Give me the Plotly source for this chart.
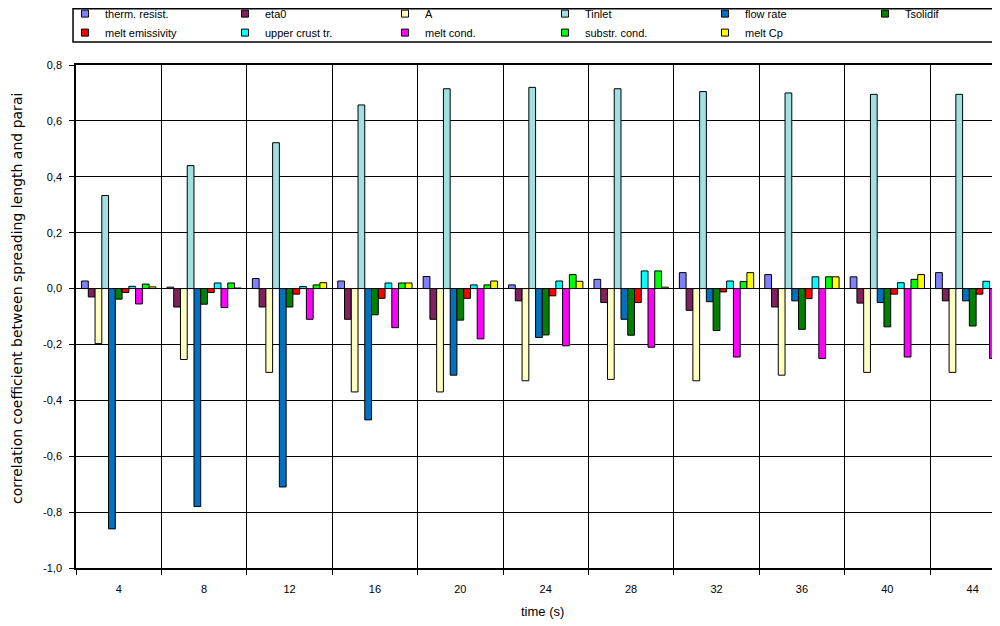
import plotly.graph_objects as go

times = ["4", "8", "12", "16", "20", "24", "28", "32", "36", "40", "44"]

therm_resist = [0.027, 0.005, 0.036, 0.027, 0.043, 0.013, 0.033, 0.057, 0.050, 0.042, 0.057]
eta0 = [-0.030, -0.066, -0.066, -0.110, -0.110, -0.044, -0.050, -0.078, -0.066, -0.052, -0.044]
a_param = [-0.197, -0.254, -0.300, -0.370, -0.370, -0.330, -0.325, -0.330, -0.310, -0.300, -0.300]
t_inlet = [0.333, 0.440, 0.522, 0.657, 0.715, 0.720, 0.715, 0.705, 0.700, 0.695, 0.695]
flow_rate = [-0.860, -0.780, -0.710, -0.470, -0.310, -0.175, -0.110, -0.047, -0.044, -0.050, -0.044]
t_solidif = [-0.038, -0.056, -0.066, -0.094, -0.113, -0.166, -0.167, -0.150, -0.146, -0.137, -0.134]
melt_emissivity = [-0.014, -0.014, -0.020, -0.035, -0.035, -0.026, -0.050, -0.012, -0.036, -0.020, -0.020]
upper_crust = [0.008, 0.020, 0.007, 0.020, 0.013, 0.027, 0.063, 0.027, 0.042, 0.021, 0.026]
melt_cond = [-0.055, -0.068, -0.110, -0.140, -0.180, -0.205, -0.210, -0.245, -0.250, -0.245, -0.250]
substr_cond = [0.016, 0.020, 0.013, 0.020, 0.013, 0.050, 0.063, 0.025, 0.042, 0.033, 0.026]
melt_cp = [0.006, 0.002, 0.021, 0.020, 0.027, 0.026, 0.005, 0.057, 0.042, 0.050, 0.040]

series_names = ["therm. resist.", "eta0", "A", "Tinlet", "flow rate", "Tsolidif",
                "melt emissivity", "upper crust tr.", "melt cond.", "substr. cond.", "melt Cp"]
series_values = [therm_resist, eta0, a_param, t_inlet, flow_rate, t_solidif,
                 melt_emissivity, upper_crust, melt_cond, substr_cond, melt_cp]
series_colors = ["#8080FF", "#80205F", "#FFFFC0", "#A0E0E0", "#0070C0", "#008000",
                 "#FF0000", "#00FFFF", "#FF00FF", "#00FF00", "#FFFF00"]

y_ticks = [-1.0, -0.8, -0.6, -0.4, -0.2, 0.0, 0.2, 0.4, 0.6, 0.8]
y_ticktext = [("%.1f" % v).replace(".", ",") for v in y_ticks]

FONT = "Liberation Sans"

fig = go.Figure()
for name, vals, col in zip(series_names, series_values, series_colors):
    fig.add_trace(go.Bar(
        x=times, y=vals, name=name, showlegend=False,
        marker=dict(color=col, line=dict(color="black", width=1)),
    ))
# legend entries with small square swatches
for name, col in zip(series_names, series_colors):
    fig.add_trace(go.Scatter(
        x=[None], y=[None], mode="markers", name=name,
        marker=dict(symbol="square", size=7, color=col, line=dict(color="black", width=1)),
    ))

fig.update_layout(
    width=1000, height=626,
    margin=dict(l=68, r=0, t=57, b=66, autoexpand=False),
    paper_bgcolor="white", plot_bgcolor="white",
    barmode="group", bargap=0.13, bargroupgap=0,
    font=dict(family=FONT, size=11, color="black"),
    legend=dict(
        orientation="h", x=-0.0118, xanchor="left", y=1.131, yanchor="top",
        entrywidth=115, entrywidthmode="pixels",
        bgcolor="rgba(0,0,0,0)", borderwidth=0,
        font=dict(family=FONT, size=11, color="black"),
        traceorder="normal",
    ),
    shapes=[dict(type="rect", xref="paper", yref="paper",
                 x0=-0.0032, x1=1.03, y0=1.0457, y1=1.1118,
                 line=dict(color="black", width=1.5), fillcolor="rgba(0,0,0,0)")],
    annotations=[
        dict(text="correlation coefficient between spreading length and parai",
             xref="paper", yref="paper", x=-0.0633, y=0.5348, textangle=-90,
             showarrow=False, xanchor="center", yanchor="middle",
             font=dict(family="DejaVu Sans", size=14, color="black")),
        dict(text="time (s)", xref="paper", yref="paper", x=0.5005, y=-0.0855,
             showarrow=False, xanchor="center", yanchor="middle",
             font=dict(family=FONT, size=13, color="black")),
    ],
)
fig.update_xaxes(
    type="category", range=[-0.5, 10.413], tickson="boundaries",
    showgrid=True, gridcolor="black", gridwidth=1,
    ticks="outside", ticklen=5, tickcolor="black", tickwidth=1,
    showline=True, linecolor="black", linewidth=1.5, mirror=True,
    ticklabelstandoff=10, tickfont=dict(family=FONT, size=11, color="black"),
)
fig.update_yaxes(
    range=[-1.0, 0.8], tickvals=y_ticks, ticktext=y_ticktext,
    showgrid=True, gridcolor="black", gridwidth=1,
    zeroline=True, zerolinecolor="black", zerolinewidth=1,
    ticks="outside", ticklen=5, tickcolor="black", tickwidth=1,
    showline=True, linecolor="black", linewidth=1.5,
    ticklabelstandoff=5, tickfont=dict(family=FONT, size=11, color="black"),
)

fig.write_html("out.html")
